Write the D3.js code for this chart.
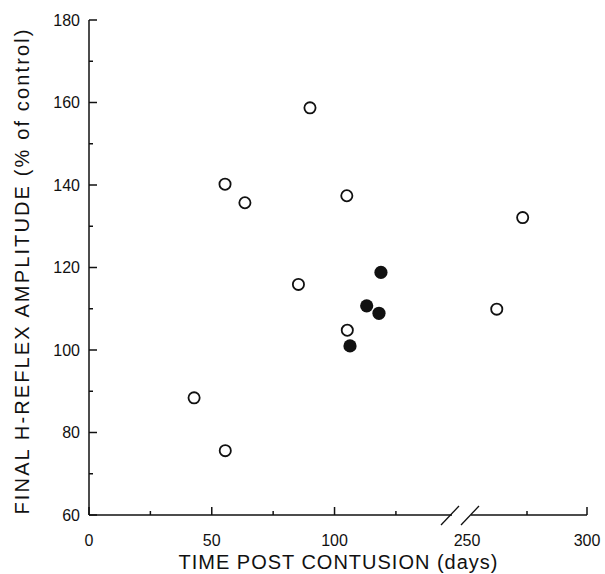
<!DOCTYPE html>
<html>
<head>
<meta charset="utf-8">
<script src="https://cdn.jsdelivr.net/npm/d3@7"></script>
<style>
  html, body { margin: 0; padding: 0; background: #fff; }
  svg { display: block; }
  text { font-family: "Liberation Sans", Arial, sans-serif; fill: #111; }
</style>
</head>
<body>
<svg id="chart" width="605" height="574"></svg>
<script>
// ---- data ----
const openDays   = [42.8, 55.5, 55.4, 63.5, 90.0, 85.3, 105.0, 105.2, 262.4, 273.2];
const openAmp    = [88.4, 75.6, 140.2, 135.7, 158.7, 115.9, 137.4, 104.8, 109.9, 132.1];
const filledDays = [118.9, 113.1, 118.1, 106.3];
const filledAmp  = [118.8, 110.7, 108.9, 101.0];
const xMajorTicks = [0, 50, 100, 250, 300];
const xMinorTicks = [25, 75, 125, 275];
const yMajorTicks = [60, 80, 100, 120, 140, 160, 180];
const yMinorTicks = [70, 90, 110, 130, 150, 170];
const xTitle = "TIME POST CONTUSION (days)";
const yTitle = "FINAL H-REFLEX AMPLITUDE (% of control)";

const svg = d3.select("#chart");

// broken x scale: 0-150 | break | 250-300
const x = d3.scaleLinear().domain([0, 150, 250, 300]).range([89, 457.3, 467, 587]);
const y = d3.scaleLinear().domain([60, 180]).range([515, 20]);

const axisColor = "#111";
const sw = 1.5;
const majorLen = 8, minorLen = 4;

// y axis
const gy = svg.append("g");
gy.append("line").attr("x1", x(0)).attr("x2", x(0)).attr("y1", y(180)).attr("y2", y(60))
  .attr("stroke", axisColor).attr("stroke-width", sw);
gy.selectAll(".ymaj").data(yMajorTicks).enter().append("line")
  .attr("x1", x(0)).attr("x2", x(0) + majorLen).attr("y1", d => y(d)).attr("y2", d => y(d))
  .attr("stroke", axisColor).attr("stroke-width", sw);
gy.selectAll(".ymin").data(yMinorTicks).enter().append("line")
  .attr("x1", x(0)).attr("x2", x(0) + minorLen).attr("y1", d => y(d)).attr("y2", d => y(d))
  .attr("stroke", axisColor).attr("stroke-width", sw);
gy.selectAll(".ylab").data(yMajorTicks).enter().append("text")
  .attr("x", x(0) - 9).attr("y", d => y(d)).attr("dy", "0.35em")
  .attr("text-anchor", "end").attr("font-size", 16).text(d => d);

// x axis (two segments with break)
const gx = svg.append("g");
const y0 = y(60);
gx.append("line").attr("x1", x(0)).attr("x2", 452).attr("y1", y0).attr("y2", y0)
  .attr("stroke", axisColor).attr("stroke-width", sw);
gx.append("line").attr("x1", 471).attr("x2", x(300)).attr("y1", y0).attr("y2", y0)
  .attr("stroke", axisColor).attr("stroke-width", sw);
[450, 470].forEach(cx => {
  gx.append("line").attr("x1", cx - 9).attr("y1", y0 + 10).attr("x2", cx + 9).attr("y2", y0 - 9)
    .attr("stroke", axisColor).attr("stroke-width", 1.3);
});
gx.selectAll(".xmaj").data(xMajorTicks.filter(d => d !== 250)).enter().append("line")
  .attr("x1", d => x(d)).attr("x2", d => x(d)).attr("y1", y0).attr("y2", y0 - majorLen)
  .attr("stroke", axisColor).attr("stroke-width", sw);
gx.selectAll(".xmin").data(xMinorTicks).enter().append("line")
  .attr("x1", d => x(d)).attr("x2", d => x(d)).attr("y1", y0).attr("y2", y0 - minorLen)
  .attr("stroke", axisColor).attr("stroke-width", sw);
gx.selectAll(".xlab").data(xMajorTicks).enter().append("text")
  .attr("x", d => x(d)).attr("y", 546)
  .attr("text-anchor", "middle").attr("font-size", 16).text(d => d);

// titles
svg.append("text").attr("x", 338).attr("y", 569).attr("text-anchor", "middle")
  .attr("font-size", 20).attr("textLength", 319).attr("lengthAdjust", "spacing").text(xTitle);
svg.append("text").attr("transform", "translate(29,272) rotate(-90)").attr("text-anchor", "middle")
  .attr("font-size", 20).attr("textLength", 485).attr("lengthAdjust", "spacing").text(yTitle);

// points
const openData = openDays.map((d, i) => ({ d, a: openAmp[i] }));
const filledData = filledDays.map((d, i) => ({ d, a: filledAmp[i] }));
svg.selectAll(".open").data(openData).enter().append("circle")
  .attr("cx", p => x(p.d)).attr("cy", p => y(p.a)).attr("r", 5.6)
  .attr("fill", "#fff").attr("stroke", "#111").attr("stroke-width", 1.8);
svg.selectAll(".filled").data(filledData).enter().append("circle")
  .attr("cx", p => x(p.d)).attr("cy", p => y(p.a)).attr("r", 6.6)
  .attr("fill", "#111");
</script>
</body>
</html>
